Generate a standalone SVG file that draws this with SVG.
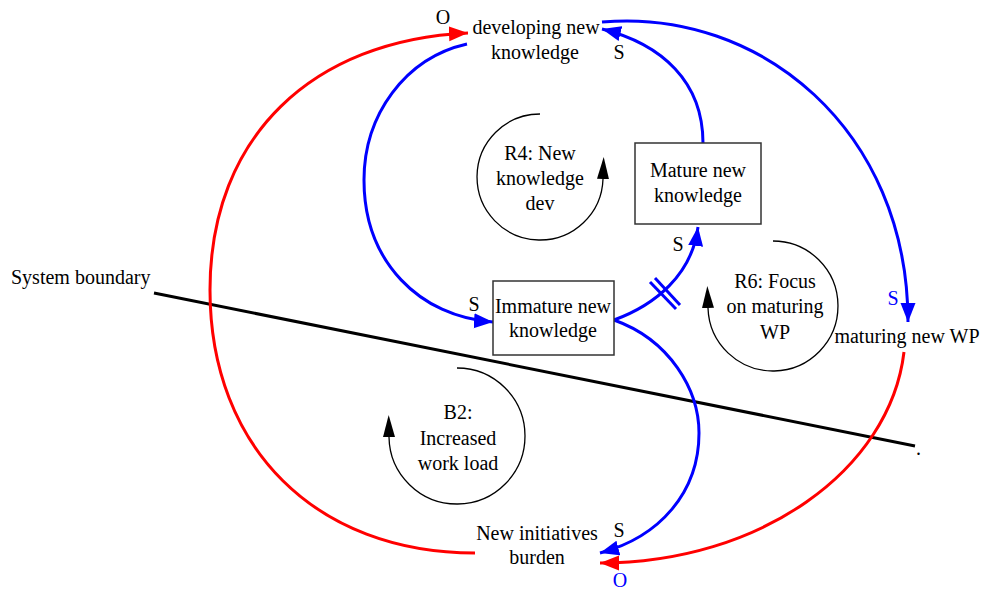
<svg xmlns="http://www.w3.org/2000/svg" width="983" height="590" viewBox="0 0 983 590" font-family="'Liberation Serif', 'Times New Roman', 'DejaVu Serif', serif">
  <style>
    text { font-family: 'Liberation Serif', 'Times New Roman', 'DejaVu Serif', serif; font-size: 20px; fill: #000; }
    .c { text-anchor: middle; }
    .blueTxt { fill: #0000ff; }
    .box { fill: #fff; stroke: #333; stroke-width: 1.5; }
    .pos { fill: none; stroke: #0000ff; stroke-width: 3; }
    .neg { fill: none; stroke: #ff0000; stroke-width: 3; }
    .loop { fill: none; stroke: #000; stroke-width: 1.3; }
    .boundary { stroke: #000; stroke-width: 3; }
  </style>
  <defs>
    <marker id="arrowBlue" markerUnits="userSpaceOnUse" markerWidth="20" markerHeight="16" refX="19" refY="7.5" orient="auto">
      <path d="M0,0 L19,7.5 L0,15 z" fill="#0000ff"/>
    </marker>
    <marker id="arrowRed" markerUnits="userSpaceOnUse" markerWidth="20" markerHeight="16" refX="19" refY="7.5" orient="auto">
      <path d="M0,0 L19,7.5 L0,15 z" fill="#ff0000"/>
    </marker>
    <marker id="loopHead" markerUnits="userSpaceOnUse" markerWidth="24" markerHeight="14" refX="0" refY="6" orient="auto">
      <path d="M0,0 L22,6 L0,12 z" fill="#000"/>
    </marker>
  </defs>

  <!-- system boundary -->
  <g id="boundary">
    <line class="boundary" x1="154" y1="293" x2="915" y2="446"/>
    <text x="11" y="284">System boundary</text>
    <text x="916" y="455">.</text>
  </g>

  <!-- causal links -->
  <g id="connectors">
    <!-- New initiatives burden -> developing new knowledge -->
    <path class="neg" d="M475,553 C316,553 210,448 210,290 C210,136 313,40 468,33" marker-end="url(#arrowRed)"/>
    <!-- developing new knowledge -> Immature new knowledge -->
    <path class="pos" d="M467,44 C405,58 364,115 364,180 C364,262 420,317 493,322" marker-end="url(#arrowBlue)"/>
    <!-- Mature new knowledge -> developing new knowledge -->
    <path class="pos" d="M703,143 C703,82 662,44 602,29" marker-end="url(#arrowBlue)"/>
    <!-- developing new knowledge -> maturing new WP -->
    <path class="pos" d="M602,22 C760,8 908,130 908,322" marker-end="url(#arrowBlue)"/>
    <!-- Immature -> Mature (delayed) -->
    <path class="pos" d="M614,320 C655,305 692,275 698,227" marker-end="url(#arrowBlue)"/>
    <line class="pos" x1="650" y1="282" x2="676" y2="309" stroke-width="2"/>
    <line class="pos" x1="655" y1="278" x2="680" y2="305" stroke-width="2"/>
    <!-- Immature -> New initiatives burden -->
    <path class="pos" d="M614,320 C670,340 699,390 699,433 C699,492 660,537 600,553" marker-end="url(#arrowBlue)"/>
    <!-- maturing new WP -> New initiatives burden -->
    <path class="neg" d="M904,352 C890,470 760,563 600,563" marker-end="url(#arrowRed)"/>

    <text class="c" x="443" y="24">O</text>
    <text class="c" x="619" y="59">S</text>
    <text class="c" x="474" y="311">S</text>
    <text class="c" x="678" y="251">S</text>
    <text class="c blueTxt" x="893" y="305">S</text>
    <text class="c" x="619" y="537">S</text>
    <text class="c blueTxt" x="620" y="587">O</text>
  </g>

  <g id="developing-new-knowledge">
    <text class="c" x="536" y="34">developing new</text>
    <text class="c" x="535" y="59">knowledge</text>
  </g>

  <g id="mature-new-knowledge">
    <rect class="box" x="635" y="143" width="126" height="81"/>
    <text class="c" x="698" y="177">Mature new</text>
    <text class="c" x="698" y="202">knowledge</text>
  </g>

  <g id="immature-new-knowledge">
    <rect class="box" x="493" y="281" width="121" height="74"/>
    <text class="c" x="553" y="313">Immature new</text>
    <text class="c" x="553" y="337">knowledge</text>
  </g>

  <g id="maturing-new-wp">
    <text class="c" x="907" y="343">maturing new WP</text>
  </g>

  <g id="new-initiatives-burden">
    <text class="c" x="537" y="540">New initiatives</text>
    <text class="c" x="537" y="564">burden</text>
  </g>

  <!-- loop markers -->
  <g id="loop-r4">
    <path class="loop" d="M540,114 A63,63 0 1 0 603,179" marker-end="url(#loopHead)"/>
    <text class="c" x="540" y="160">R4: New</text>
    <text class="c" x="540" y="185">knowledge</text>
    <text class="c" x="540" y="210">dev</text>
  </g>

  <g id="loop-r6">
    <path class="loop" d="M773,241 A65,65 0 1 1 708,308" marker-end="url(#loopHead)"/>
    <text class="c" x="775" y="288">R6: Focus</text>
    <text class="c" x="775" y="313">on maturing</text>
    <text class="c" x="775" y="339">WP</text>
  </g>

  <g id="loop-b2">
    <path class="loop" d="M457,368 A68,68 0 1 1 389,437" marker-end="url(#loopHead)"/>
    <text class="c" x="458" y="419">B2:</text>
    <text class="c" x="458" y="445">Increased</text>
    <text class="c" x="458" y="470">work load</text>
  </g>
</svg>
